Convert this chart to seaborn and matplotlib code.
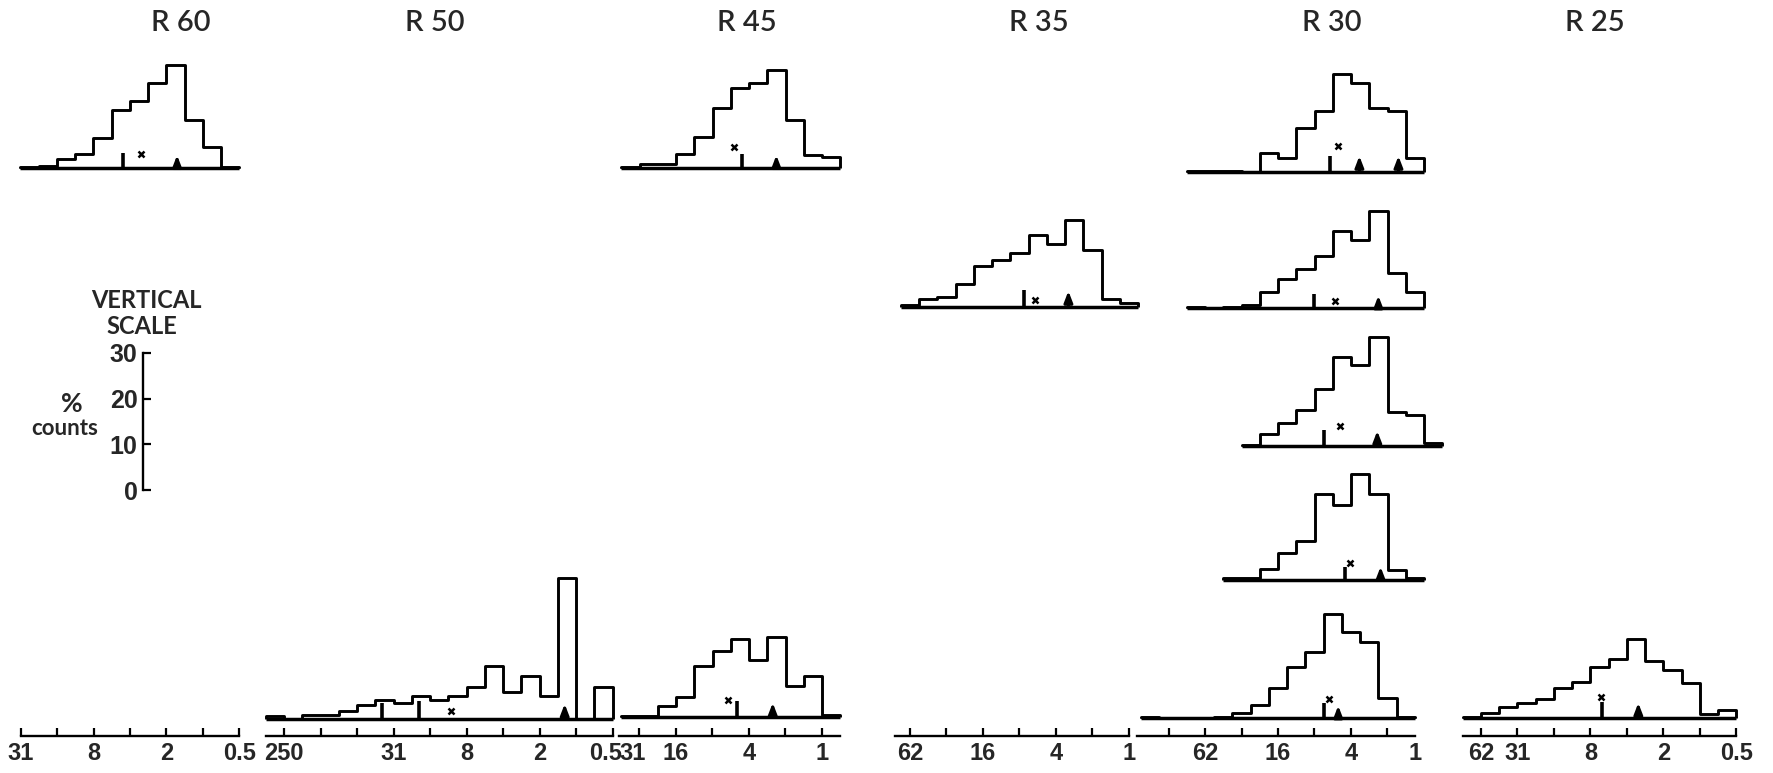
import numpy as np
import pandas as pd
import matplotlib
matplotlib.use("Agg")
import matplotlib.pyplot as plt
import seaborn as sns

# --- data (x in phi units, 1 mm = 0, y in % counts) ---
BIN = 0.5

# column titles and size-axis labels (mm)
col_titles = ["R 60", "R 50", "R 45", "R 35", "R 30", "R 25"]
col_tick_labels = [
    [(-5, "31"), (-3, "8"), (-1, "2"), (1, "0.5")],
    [(-8, "250"), (-5, "31"), (-3, "8"), (-1, "2"), (0.8, "0.5")],
    [(-5.2, "31"), (-4, "16"), (-2, "4"), (0, "1")],
    [(-6, "62"), (-4, "16"), (-2, "4"), (0, "1")],
    [(-6, "62"), (-4, "16"), (-2, "4"), (-0.25, "1")],
    [(-6, "62"), (-5, "31"), (-3, "8"), (-1, "2"), (1, "0.5")],
]
col_ticks = [
    list(range(-5, 2)),
    list(range(-8, 2)),
    list(range(-5, 1)),
    list(range(-6, 1)),
    list(range(-7, 0)),
    list(range(-6, 2)),
]
col_span = [(-5, 1), (-8.5, 1), (-5.55, 0.5), (-6.4, 0), (-7.85, -0.25), (-6.5, 1)]

# R 60 (top)
r60_start = -5.0
r60_pct = [0.3, 0.5, 2.0, 3.1, 6.5, 12.8, 14.7, 18.6, 22.6, 10.4, 4.6, 0.3]
r60_bars = [(-2.18, 3.3)]
r60_cross = (-1.71, 3.1)
r60_arrows = [(-0.71, 2.8)]

# R 50 (bottom)
r50_start = -8.5
r50_pct = [0.7, 0.1, 0.9, 0.9, 1.7, 3.0, 4.2, 3.6, 5.0, 4.2, 5.0, 6.9, 11.7,
           5.8, 9.3, 5.1, 30.9, 0.0, 6.9]
r50_bars = [(-5.31, 3.6), (-4.29, 3.9)]
r50_cross = (-3.43, 1.7)
r50_arrows = [(-0.31, 3.3)]

# R 45 (top)
r45a_start = -5.5
r45a_pct = [0.2, 0.95, 0.95, 3.1, 6.8, 13.1, 17.5, 18.6, 21.4, 10.4, 2.8, 2.4]
r45a_bars = [(-2.18, 3.1)]
r45a_cross = (-2.42, 4.6)
r45a_arrows = [(-1.25, 2.8)]

# R 45 (bottom)
r45e_start = -5.5
r45e_pct = [0.2, 0.3, 2.5, 4.3, 11.1, 14.4, 17.1, 12.5, 17.5, 6.7, 9.0, 0.5]
r45e_bars = [(-2.32, 3.4)]
r45e_cross = (-2.57, 3.8)
r45e_arrows = [(-1.35, 3.1)]

# R 35
r35_start = -6.25
r35_pct = [0.4, 1.7, 2.2, 5.1, 8.9, 10.2, 11.8, 15.8, 13.7, 19.0, 12.4, 1.8, 0.9]
r35_bars = [(-2.87, 3.8)]
r35_cross = (-2.58, 1.5)
r35_arrows = [(-1.66, 3.5)]

# R 30, five samples from top to bottom
r30a_start = -6.5
r30a_pct = [0.3, 0.15, 0.3, 0.0, 4.2, 3.1, 9.7, 13.3, 21.4, 19.5, 13.9, 13.3, 3.1]
r30a_bars = [(-2.58, 3.6)]
r30a_cross = (-2.35, 5.7)
r30a_arrows = [(-1.77, 3.5), (-0.70, 3.5)]

r30b_start = -6.5
r30b_pct = [0.3, 0.1, 0.3, 0.7, 3.4, 6.3, 8.5, 11.3, 16.8, 14.8, 21.2, 7.7, 3.4]
r30b_bars = [(-3.01, 3.1)]
r30b_cross = (-2.44, 1.5)
r30b_arrows = [(-1.25, 2.7)]

r30c_start = -5.0
r30c_pct = [0.2, 2.6, 5.0, 7.9, 12.4, 19.4, 17.7, 23.9, 7.5, 6.8, 0.6]
r30c_bars = [(-2.74, 3.6)]
r30c_cross = (-2.30, 4.4)
r30c_arrows = [(-1.28, 3.3)]

r30d_start = -5.5
r30d_pct = [0.4, 0.4, 2.3, 6.0, 8.5, 18.8, 16.4, 23.3, 18.8, 2.2, 0.5]
r30d_bars = [(-2.16, 2.9)]
r30d_cross = (-2.03, 3.7)
r30d_arrows = [(-1.19, 2.9)]

r30e_start = -7.75
r30e_pct = [0.3, 0.0, 0.0, 0.1, 0.3, 1.1, 2.9, 6.6, 11.1, 14.4, 22.8, 18.8,
            16.6, 4.4, 0.3]
r30e_bars = [(-2.74, 3.3)]
r30e_cross = (-2.59, 4.2)
r30e_arrows = [(-2.35, 2.7)]

# R 25 (bottom)
r25_start = -6.5
r25_pct = [0.15, 1.1, 2.3, 3.3, 4.2, 6.6, 7.8, 11.2, 12.9, 17.3, 12.4, 10.6,
           7.7, 0.9, 1.7]
r25_bars = [(-2.69, 3.6)]
r25_cross = (-2.72, 4.7)
r25_arrows = [(-1.69, 3.3)]

scale_ticks = [0, 10, 20, 30]

# --- layout (pixels of the 1774 x 773 picture) ---
W, H = 1774, 773
PX_PHI = 36.5
PX_PCT = 4.57
col_origin = [203, 576, 822, 1129, 1424, 1700]
title_x = [181, 435, 747, 1039, 1332, 1595]
AXIS_Y = 736
LW = 2.1

sns.set_style("white")
plt.rcParams["font.family"] = ["Lato", "DejaVu Sans"]
NUM_FONT = ["Liberation Sans", "DejaVu Sans"]

fig = plt.figure(figsize=(W / 100, H / 100), dpi=100)


def px_axes(left, top, width, height):
    return fig.add_axes([left / W, 1 - (top + height) / H, width / W, height / H])


def draw_hist(col, baseline, start, pct, bars, cross, arrows):
    edges = start + BIN * np.arange(len(pct) + 1)
    df = pd.DataFrame({"phi": edges[:-1] + BIN / 2, "pct": pct})
    lo, hi = edges[0] - 0.2, edges[-1] + 0.2
    ymin, ymax = -2, 33
    ax = px_axes(col_origin[col] + PX_PHI * lo, baseline - PX_PCT * ymax,
                 PX_PHI * (hi - lo), PX_PCT * (ymax - ymin))
    sns.histplot(data=df, x="phi", weights="pct", bins=list(edges),
                 element="step", fill=False, color="black", linewidth=LW, ax=ax)
    ax.vlines([edges[0], edges[-1]], 0, [pct[0], pct[-1]], color="black", lw=LW)
    ax.hlines(0, edges[0], edges[-1], color="black", lw=LW + 0.4)
    for p, h in bars:
        ax.vlines(p, 0, h, color="black", lw=2.6)
    ax.plot(cross[0], cross[1], marker="x", ms=4.5, mew=1.8, color="black")
    for p, h in arrows:
        ax.annotate("", xy=(p, h), xytext=(p, 0),
                    arrowprops=dict(arrowstyle="-|>,head_length=0.65,head_width=0.25",
                                    lw=2.2, color="black", shrinkA=0, shrinkB=0))
    ax.set_xlim(lo, hi)
    ax.set_ylim(ymin, ymax)
    ax.set_axis_off()
    ax.patch.set_alpha(0)


draw_hist(0, 168, r60_start, r60_pct, r60_bars, r60_cross, r60_arrows)
draw_hist(1, 719, r50_start, r50_pct, r50_bars, r50_cross, r50_arrows)
draw_hist(2, 168, r45a_start, r45a_pct, r45a_bars, r45a_cross, r45a_arrows)
draw_hist(2, 717, r45e_start, r45e_pct, r45e_bars, r45e_cross, r45e_arrows)
draw_hist(3, 307, r35_start, r35_pct, r35_bars, r35_cross, r35_arrows)
draw_hist(4, 172, r30a_start, r30a_pct, r30a_bars, r30a_cross, r30a_arrows)
draw_hist(4, 308, r30b_start, r30b_pct, r30b_bars, r30b_cross, r30b_arrows)
draw_hist(4, 446, r30c_start, r30c_pct, r30c_bars, r30c_cross, r30c_arrows)
draw_hist(4, 580, r30d_start, r30d_pct, r30d_bars, r30d_cross, r30d_arrows)
draw_hist(4, 718, r30e_start, r30e_pct, r30e_bars, r30e_cross, r30e_arrows)
draw_hist(5, 718, r25_start, r25_pct, r25_bars, r25_cross, r25_arrows)

# size axes along the bottom
for i in range(len(col_titles)):
    lo, hi = col_span[i]
    ax = px_axes(col_origin[i] + PX_PHI * lo, AXIS_Y - 20, PX_PHI * (hi - lo), 20)
    ax.set_xlim(lo, hi)
    ax.set_ylim(0, 1)
    for s in ["top", "left", "right"]:
        ax.spines[s].set_visible(False)
    ax.spines["bottom"].set_linewidth(1.7)
    ax.spines["bottom"].set_color("black")
    ax.set_yticks([])
    ax.set_xticks(col_ticks[i])
    ax.set_xticklabels([""] * len(col_ticks[i]))
    ax.tick_params(axis="x", bottom=True, direction="in", length=5.5,
                   width=1.6, color="black")
    for p, txt in col_tick_labels[i]:
        ax.annotate(txt, xy=(p, 0), xycoords=("data", "axes fraction"),
                    xytext=(0, -4), textcoords="offset points",
                    family=NUM_FONT, fontweight="bold", fontsize=17,
                    ha="center", va="top")
    ax.patch.set_alpha(0)
    fig.text(title_x[i] / W, 1 - 23 / H, col_titles[i], fontsize=21,
             fontweight="semibold", ha="center", va="center")

# vertical scale
ax = px_axes(143, 353, 30, 137)
ax.set_ylim(0, 30)
ax.set_xlim(0, 1)
for s in ["top", "bottom", "right"]:
    ax.spines[s].set_visible(False)
ax.spines["left"].set_linewidth(1.7)
ax.spines["left"].set_color("black")
ax.set_xticks([])
ax.set_yticks(scale_ticks)
ax.set_yticklabels([str(t) for t in scale_ticks], family=NUM_FONT,
                   fontweight="bold", fontsize=18)
ax.tick_params(axis="y", left=True, direction="in", length=6, width=1.6,
               color="black", pad=4)
ax.patch.set_alpha(0)

fig.text(146 / W, 1 - 300 / H, "VERTICAL", fontsize=17, fontweight="bold",
         ha="center", va="center")
fig.text(142 / W, 1 - 326 / H, "SCALE", fontsize=17, fontweight="bold",
         ha="center", va="center")
fig.text(72 / W, 1 - 404 / H, "%", fontsize=19, fontweight="bold",
         ha="center", va="center")
fig.text(65 / W, 1 - 428 / H, "counts", fontsize=16, fontweight="bold",
         ha="center", va="center")

fig.savefig("out.png", dpi=100, facecolor="white")
